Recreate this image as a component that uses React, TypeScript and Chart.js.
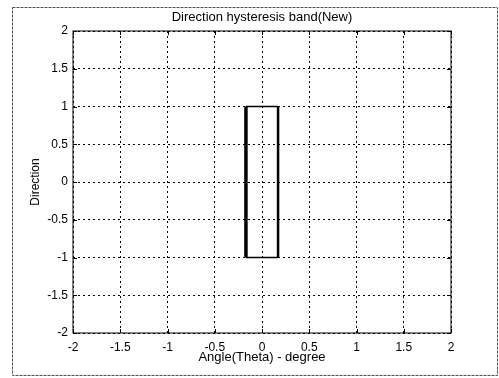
import React, { useEffect, useRef } from "react";
import { Chart, registerables } from "chart.js";

Chart.register(...registerables);

const chartTitle = "Direction hysteresis band(New)";
const xTitle = "Angle(Theta) - degree";
const yTitle = "Direction";
const axisRange = [-2, 2];
const tickStep = 0.5;
// hysteresis band edges
const bandX = [-0.17, 0.17];
const bandY = [-1, 1];

const FONT = "'Liberation Sans', Arial, sans-serif";

const framePlugin = {
  id: "frame",
  beforeDraw(chart: any) {
    const { ctx, width, height } = chart;
    ctx.save();
    ctx.fillStyle = "#fff";
    ctx.fillRect(0, 0, width, height);
    ctx.strokeStyle = "#555";
    ctx.lineWidth = 1;
    ctx.setLineDash([3, 1]);
    ctx.strokeRect(12.5, 7.5, 485, 368);
    ctx.restore();
  },
  afterDatasetsDraw(chart: any) {
    const { ctx, chartArea } = chart;
    const { left, right, top, bottom } = chartArea;
    const xs = chart.scales.x;
    const ys = chart.scales.y;
    ctx.save();
    ctx.strokeStyle = "#000";
    ctx.lineWidth = 1;
    ctx.setLineDash([]);
    ctx.strokeRect(left, top, right - left, bottom - top);
    const len = 4;
    ctx.beginPath();
    xs.ticks.forEach((t: any) => {
      const px = Math.round(xs.getPixelForValue(t.value)) + 0.5;
      ctx.moveTo(px, bottom);
      ctx.lineTo(px, bottom - len);
      ctx.moveTo(px, top);
      ctx.lineTo(px, top + len);
    });
    ys.ticks.forEach((t: any) => {
      const py = Math.round(ys.getPixelForValue(t.value)) + 0.5;
      ctx.moveTo(left, py);
      ctx.lineTo(left + len, py);
      ctx.moveTo(right, py);
      ctx.lineTo(right - len, py);
    });
    ctx.stroke();
    // title centred over the plot area
    ctx.fillStyle = "#000";
    ctx.font = `13px ${FONT}`;
    ctx.textAlign = "center";
    ctx.textBaseline = "middle";
    ctx.fillText(chartTitle, (left + right) / 2, 17);
    ctx.restore();
  },
};

export default function App() {
  const ref = useRef<HTMLCanvasElement>(null);
  useEffect(() => {
    if (!ref.current) return;
    const seg = (pts: { x: number; y: number }[], w: number) => ({
      data: pts,
      showLine: true,
      borderColor: "#000",
      backgroundColor: "#000",
      borderWidth: w,
      pointRadius: 0,
      fill: false,
    });
    const fmt = (v: any) => String(Number(v));
    const chart = new Chart(ref.current, {
      type: "scatter",
      data: {
        datasets: [
          seg([{ x: bandX[0], y: bandY[0] }, { x: bandX[0], y: bandY[1] }], 3.5),
          seg([{ x: bandX[1], y: bandY[0] }, { x: bandX[1], y: bandY[1] }], 2.5),
          seg([{ x: bandX[0], y: bandY[1] }, { x: bandX[1], y: bandY[1] }], 1.5),
          seg([{ x: bandX[0], y: bandY[0] }, { x: bandX[1], y: bandY[0] }], 1.5),
        ],
      },
      options: {
        animation: false,
        responsive: false,
        layout: { padding: { left: 14, right: 48, top: 31, bottom: 0 } },
        plugins: {
          legend: { display: false },
          tooltip: { enabled: false },
          title: { display: false },
        },
        scales: {
          x: {
            type: "linear",
            min: axisRange[0],
            max: axisRange[1],
            afterFit: (s: any) => { s.height = 45; },
            ticks: { stepSize: tickStep, color: "#000", padding: 7, font: { family: FONT, size: 12 }, callback: fmt },
            grid: { color: "#000", lineWidth: 1, drawTicks: false },
            border: { display: false, dash: [2, 3] },
            title: { display: true, text: xTitle, color: "#000", font: { family: FONT, size: 13 }, padding: { top: 0, bottom: 13 } },
          },
          y: {
            type: "linear",
            min: axisRange[0],
            max: axisRange[1],
            afterFit: (s: any) => { s.width = 59; },
            ticks: { stepSize: tickStep, color: "#000", padding: 5, font: { family: FONT, size: 12 }, callback: fmt },
            grid: { color: "#000", lineWidth: 1, drawTicks: false },
            border: { display: false, dash: [2, 3] },
            title: { display: true, text: yTitle, color: "#000", font: { family: FONT, size: 12 }, padding: { top: 14, bottom: 0 } },
          },
        },
      },
      plugins: [framePlugin],
    } as any);
    return () => chart.destroy();
  }, []);
  return (
    <div style={{ position: "absolute", left: 0, top: 0, width: 499, height: 378 }}>
      <canvas ref={ref} width={499} height={378} />
    </div>
  );
}
